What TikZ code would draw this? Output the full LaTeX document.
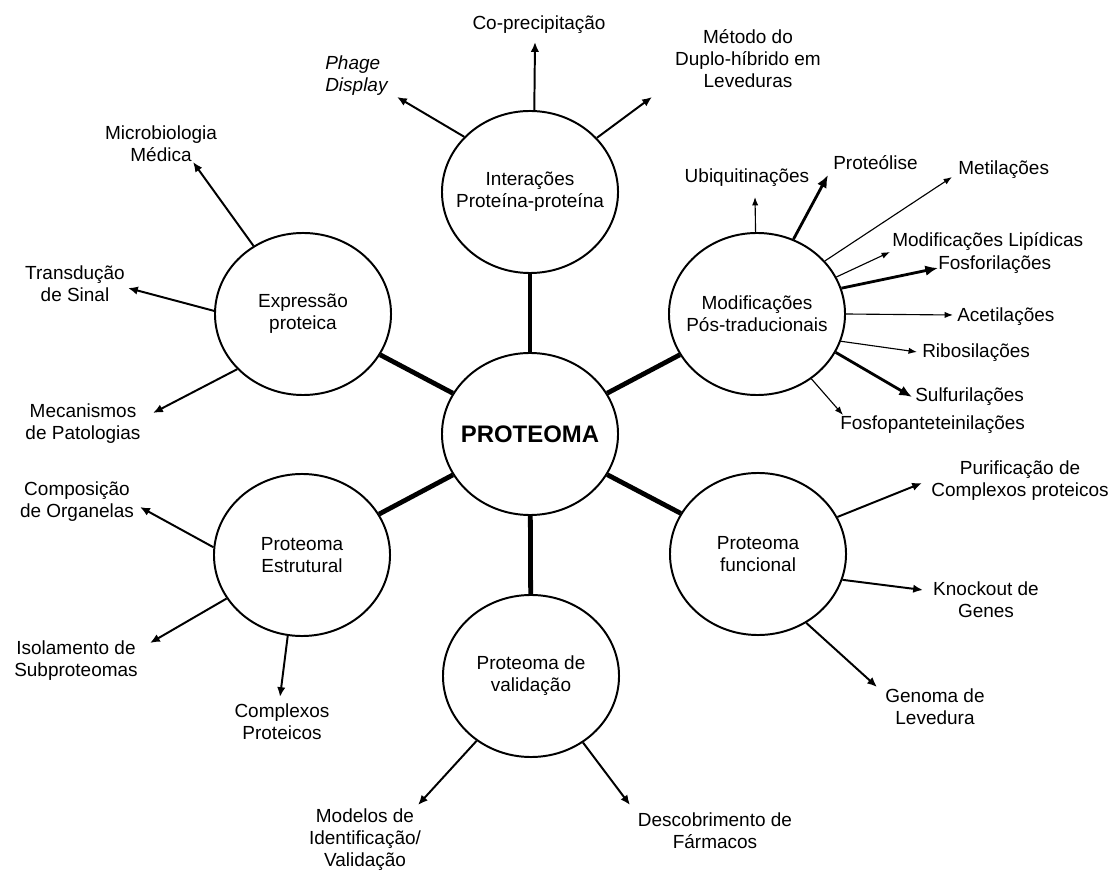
\documentclass[tikz,border=0pt]{standalone}
\usepackage{fontspec}
\setmainfont{Liberation Sans}
\usetikzlibrary{shapes.geometric,arrows.meta}
\newcommand\labfont{\fontsize{13.5}{15.6}\selectfont}
\begin{document}
\begin{tikzpicture}[x=0.025cm,y=-0.025cm,
  bubble/.style={ellipse,draw,line width=1.4pt,minimum width=4.4cm,minimum height=4.05cm,inner sep=0pt,fill=white},
  intext/.style={align=center,font=\labfont,inner sep=0pt},
  hub/.style={line width=3.4pt},
  arr/.style={line width=1.4pt,-{Latex[length=7pt,width=6pt]}},
  arrthin/.style={line width=0.8pt,-{Latex[length=6pt,width=4.5pt]}},
  arrthick/.style={line width=2pt,-{Latex[length=9pt,width=7.5pt]}},
  lab/.style={align=center,font=\labfont,inner sep=0pt},
  labw/.style={lab,anchor=west}]
\useasboundingbox (0,0) rectangle (1119,872);

% circles
\node[bubble,label={[intext,font=\fontsize{17}{20}\selectfont\bfseries]center:PROTEOMA}] (P) at (530,434) {};
\node[bubble,label={[intext]center:Interações\\Proteína-proteína}] (I) at (530,192) {};
\node[bubble,label={[intext]center:Modificações\\Pós-traducionais}] (M) at (757,314) {};
\node[bubble,label={[intext]center:Expressão\\proteica}] (E) at (303,314) {};
\node[bubble,label={[intext]center:Proteoma\\Estrutural}] (S) at (302,555) {};
\node[bubble,label={[intext]center:Proteoma\\funcional}] (F) at (758,554) {};
\node[bubble,label={[intext]center:Proteoma de\\validação}] (V) at (531,676) {};

% hub connectors
\draw[hub] (P) -- (I);
\draw[hub] (P) -- (M);
\draw[hub] (P) -- (E);
\draw[hub] (P) -- (S);
\draw[hub] (P) -- (F);
\draw[hub] (P) -- (V);

% labels
\node[lab] (lCo) at (539,25) {Co-precipitação};
\node[lab,align=left,anchor=west,font=\labfont\itshape] (lPh) at (325,76) {Phage\\Display};
\node[lab] (lMe) at (748,59) {Método do\\Duplo-híbrido em\\Leveduras};

\node[lab] (lUb) at (747,178) {Ubiquitinações};
\node[labw] (lPr) at (833,163) {Proteólise};
\node[labw] (lMt) at (958,170) {Metilações};
\node[labw] (lLi) at (892,242) {Modificações Lipídicas};
\node[labw] (lFo) at (938,265) {Fosforilações};
\node[labw] (lAc) at (957,317) {Acetilações};
\node[labw] (lRi) at (922,353) {Ribosilações};
\node[labw] (lSu) at (915,397) {Sulfurilações};
\node[labw] (lFp) at (840,425) {Fosfopanteteinilações};

\node[lab] (lMi) at (161,144) {Microbiologia\\Médica};
\node[lab] (lTr) at (75,284) {Transdução\\de Sinal};
\node[lab] (lMc) at (83,424) {Mecanismos\\de Patologias};

\node[lab] (lCp) at (77,502) {Composição\\de Organelas};
\node[lab] (lIs) at (76,661) {Isolamento de\\Subproteomas};
\node[lab] (lCx) at (282,722) {Complexos\\Proteicos};

\node[lab] (lPu) at (1020,481) {Purificação de\\Complexos proteicos};
\node[lab] (lKn) at (986,600) {Knockout de\\Genes};
\node[lab] (lGe) at (935,707) {Genoma de\\Levedura};

\node[lab] (lMo) at (365,840) {Modelos de\\Identificação/\\Validação};
\node[lab] (lDe) at (715,831) {Descobrimento de\\Fármacos};

% arrow tips
\coordinate (tCo) at (535,42);
\coordinate (tPh) at (397,97);
\coordinate (tMe) at (652,97);
\coordinate (tUb) at (755,197);
\coordinate (tPr) at (828,175);
\coordinate (tMt) at (952,177);
\coordinate (tLi) at (890,252);
\coordinate (tFo) at (938,268);
\coordinate (tAc) at (953,315);
\coordinate (tRi) at (917,352);
\coordinate (tSu) at (912,397);
\coordinate (tFp) at (843,415);
\coordinate (tMi) at (193,162);
\coordinate (tTr) at (128,288);
\coordinate (tMc) at (153,413);
\coordinate (tCp) at (140,507);
\coordinate (tIs) at (150,643);
\coordinate (tCx) at (280,697);
\coordinate (tPu) at (922,483);
\coordinate (tKn) at (923,590);
\coordinate (tGe) at (877,687);
\coordinate (tMo) at (418,805);
\coordinate (tDe) at (630,805);

% arrows
\draw[arr] (I.87) -- (tCo);
\draw[arr] (I.140) -- (tPh);
\draw[arr] (I.39) -- (tMe);

\draw[arrthin] (M.91) -- (tUb);
\draw[arrthick] (M.64) -- (tPr);
\draw[arrthin] (M.38) -- (tMt);
\draw[arrthin] (M.25) -- (tLi);
\draw[arrthick] (M.17) -- (tFo);
\draw[arrthin] (M.0) -- (tAc);
\draw[arrthin] (M.-18) -- (tRi);
\draw[arrthick] (M.-26) -- (tSu);
\draw[arrthin] (M.-50) -- (tFp);

\draw[arr] (E.126) -- (tMi);
\draw[arr] (E.178) -- (tTr);
\draw[arr] (E.220) -- (tMc);

\draw[arr] (S.175) -- (tCp);
\draw[arr] (S.210) -- (tIs);
\draw[arr] (S.260) -- (tCx);

\draw[arr] (F.25) -- (tPu);
\draw[arr] (F.-17) -- (tKn);
\draw[arr] (F.-55) -- (tGe);

\draw[arr] (V.230) -- (tMo);
\draw[arr] (V.-52) -- (tDe);
\end{tikzpicture}
\end{document}
